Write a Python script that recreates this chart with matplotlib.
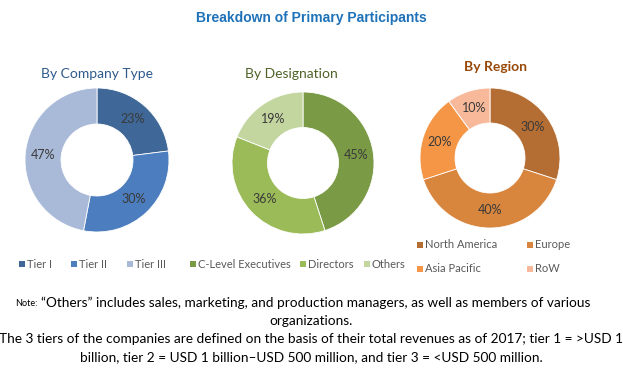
import matplotlib
matplotlib.use("Agg")
import matplotlib.pyplot as plt
from matplotlib.patches import Rectangle

W, H = 623, 374

company_labels = ["Tier I", "Tier II", "Tier III"]
company_values = [23, 30, 47]
company_colors = ["#3F6797", "#4C7EBF", "#A9B9D8"]

design_labels = ["C-Level Executives", "Directors", "Others"]
design_values = [45, 36, 19]
design_colors = ["#7A9A45", "#9BBB59", "#C4D6A0"]

region_labels = ["North America", "Europe", "Asia Pacific", "RoW"]
region_values = [30, 40, 20, 10]
region_colors = ["#B46D32", "#D8853D", "#F59646", "#F7B99A"]

plt.rcParams['font.family'] = ['Lato', 'DejaVu Sans']

fig = plt.figure(figsize=(W / 100, H / 100), dpi=100)
fig.patch.set_facecolor("white")


def px_axes(cx, cy, r):
    return fig.add_axes([(cx - r) / W, 1 - (cy + r) / H, 2 * r / W, 2 * r / H])


def donut(cx, cy, r, values, colors):
    ax = px_axes(cx, cy, r)
    ax.pie(values, colors=colors, startangle=90, counterclock=False,
           radius=1.0, wedgeprops=dict(width=0.5, edgecolor="white", linewidth=0.6),
           autopct=lambda p: f"{p:.0f}%", pctdistance=0.75,
           textprops=dict(color="#3A3A3A", fontsize=9))
    ax.set_xlim(-1, 1)
    ax.set_ylim(-1, 1)
    ax.set_aspect("equal")
    ax.axis("off")
    return ax


donut(97, 160, 72, company_values, company_colors)
donut(303, 163, 71, design_values, design_colors)
donut(490, 158, 70, region_values, region_colors)

fig.text(311 / W, 1 - 18 / H, "Breakdown of Primary Participants",
         ha="center", va="center", fontsize=10, fontweight="bold",
         color="#1F72B8", family=["Liberation Sans", "DejaVu Sans"])
fig.text(97 / W, 1 - 74 / H, "By Company Type", ha="center", va="center",
         fontsize=10, color="#2E5A8C")
fig.text(291 / W, 1 - 74 / H, "By Designation", ha="center", va="center",
         fontsize=10, color="#4F6228")
fig.text(496 / W, 1 - 67 / H, "By Region", ha="center", va="center",
         fontsize=10, fontweight="bold", color="#984807")


def legend_item(x, y, label, color):
    s = 6
    fig.patches.append(Rectangle(
        ((x - s / 2) / W, 1 - (y + s / 2) / H), s / W, s / H,
        transform=fig.transFigure, facecolor=color, edgecolor="none"))
    fig.text((x + 5) / W, 1 - y / H, label, ha="left", va="center",
             fontsize=8, color="#595959")


comp_x = [22, 74, 130]
for x, lab, c in zip(comp_x, company_labels, company_colors):
    legend_item(x, 264, lab, c)

des_x = [193, 303, 367]
for x, lab, c in zip(des_x, design_labels, design_colors):
    legend_item(x, 264, lab, c)

reg_pos = [(420, 245), (530, 245), (420, 269), (530, 269)]
for (x, y), lab, c in zip(reg_pos, region_labels, region_colors):
    legend_item(x, y, lab, c)

note_fs = 9.8
fig.text(15 / W, 1 - 304 / H, "Note:", ha="left", va="center",
         fontsize=6.5, color="black")
fig.text(41 / W, 1 - 303 / H,
         "\u201cOthers\u201d includes sales, marketing, and production managers, as well as members of various",
         ha="left", va="center", fontsize=note_fs, color="black")
fig.text(311 / W, 1 - 321 / H, "organizations.", ha="center", va="center",
         fontsize=note_fs, color="black")
fig.text(311 / W, 1 - 339 / H,
         "The 3 tiers of the companies are defined on the basis of their total revenues as of 2017; tier 1 = >USD 1",
         ha="center", va="center", fontsize=note_fs, color="black")
fig.text(311 / W, 1 - 357 / H,
         "billion, tier 2 = USD 1 billion\u2013USD 500 million, and tier 3 = <USD 500 million.",
         ha="center", va="center", fontsize=note_fs, color="black")

fig.savefig("out.png", dpi=100, facecolor="white")
